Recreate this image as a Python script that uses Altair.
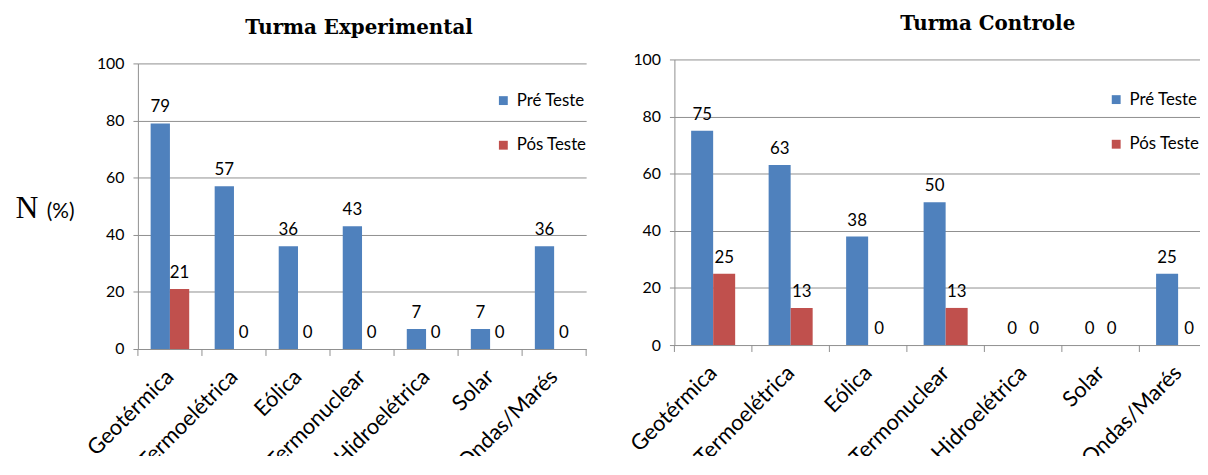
import altair as alt
import pandas as pd

categorias = ["Geotérmica", "Termoelétrica", "Eólica", "Termonuclear",
              "Hidroelétrica", "Solar", "Ondas/Marés"]
series = ["Pré Teste", "Pós Teste"]
exp_pre = [79, 57, 36, 43, 7, 7, 36]
exp_pos = [21, 0, 0, 0, 0, 0, 0]
ctl_pre = [75, 63, 38, 50, 0, 0, 25]
ctl_pos = [25, 13, 0, 13, 0, 0, 0]
titulos = ["Turma Experimental", "Turma Controle"]
eixo_y = ["N", "(%)"]
y_ticks = [0, 20, 40, 60, 80, 100]
cores = ["#4F81BD", "#C0504D"]

GRID = "#8f8f8f"
SANS = "Lato"


def long_df(pre, pos):
    rows = []
    for c, a, b in zip(categorias, pre, pos):
        rows.append({"categoria": c, "serie": series[0], "valor": a})
        rows.append({"categoria": c, "serie": series[1], "valor": b})
    return pd.DataFrame(rows)


def panel(df, titulo, width, height, yrange, pad_off, leg_x, leg_y,
          tx, ty, extra=None):
    xaxis = alt.Axis(title=None, ticks=False, domain=False, grid=False,
                     labelAngle=-45, labelAlign="right", labelBaseline="middle",
                     labelFontSize=22, labelFont=SANS, labelColor="black",
                     labelPadding=24, labelOverlap=False, labelLimit=400)
    xscale = alt.Scale(paddingInner=0, paddingOuter=0)
    x = alt.X("categoria:N", sort=categorias, scale=xscale, axis=xaxis)

    yscale_kw = dict(domain=[0, 100])
    if yrange is not None:
        yscale_kw["range"] = yrange
    y = alt.Y("valor:Q", scale=alt.Scale(**yscale_kw),
              axis=alt.Axis(values=y_ticks, title=None, grid=True,
                            gridColor=GRID, domainColor=GRID, tickColor=GRID,
                            tickSize=5, labelFontSize=16, labelFont=SANS,
                            labelColor="black", labelPadding=9))
    xoff = alt.XOffset("serie:N", sort=series,
                       scale=alt.Scale(paddingInner=0, paddingOuter=pad_off))
    color = alt.Color("serie:N", sort=series,
                      scale=alt.Scale(domain=series, range=cores),
                      legend=alt.Legend(orient="none", legendX=leg_x, legendY=leg_y,
                                        title=None, symbolType="square",
                                        symbolSize=80, symbolStrokeWidth=0,
                                        labelFontSize=17, labelFont=SANS,
                                        labelColor="black", rowPadding=27,
                                        labelOffset=5))
    base = alt.Chart(df)
    bars = base.mark_bar().encode(x=x, xOffset=xoff, y=y, color=color)
    labels = base.mark_text(baseline="bottom", dy=-7, fontSize=17, font=SANS,
                            color="black").encode(x=x, xOffset=xoff, y=y,
                                                  text="valor:Q")
    cat_df = pd.DataFrame({"categoria": categorias})
    ticks = alt.Chart(cat_df).mark_rule(color=GRID).encode(
        x=alt.X("categoria:N", sort=categorias, scale=xscale, axis=xaxis,
                bandPosition=0),
        y=alt.value(height), y2=alt.value(height + 7))
    ticks_end = alt.Chart(cat_df).mark_rule(color=GRID).encode(
        x=alt.X("categoria:N", sort=categorias, scale=xscale, axis=xaxis,
                bandPosition=1),
        y=alt.value(height), y2=alt.value(height + 7)
    ).transform_filter(alt.datum.categoria == categorias[-1])
    title = alt.Chart(pd.DataFrame({"t": [titulo]})).mark_text(
        font="DejaVu Serif", fontWeight="bold", fontSize=20, color="black",
        align="center", baseline="middle"
    ).encode(text="t:N", x=alt.value(tx), y=alt.value(ty))
    layers = [bars, labels, ticks, ticks_end, title]
    if extra:
        layers.extend(extra)
    return alt.layer(*layers).properties(width=width, height=height)


# Y-axis label pieces and a white corner marker for the left panel
n_txt = alt.Chart(pd.DataFrame({"t": [eixo_y[0]]})).mark_text(
    font="Liberation Serif", fontSize=32, color="black", align="center",
    baseline="middle").encode(text="t:N", x=alt.value(-112), y=alt.value(150))
pct_txt = alt.Chart(pd.DataFrame({"t": [eixo_y[1]]})).mark_text(
    font=SANS, fontSize=21, color="black", align="center",
    baseline="middle").encode(text="t:N", x=alt.value(-78), y=alt.value(154))
corner = alt.Chart(pd.DataFrame({"t": [0]})).mark_rule(
    color="white", strokeWidth=1).encode(
    x=alt.value(-128.5), x2=alt.value(-110), y=alt.value(-51.5))

left = panel(long_df(exp_pre, exp_pos), titulos[0], 452, 292, [292, 4],
             0.66, 360, 33, 223, -32, extra=[n_txt, pct_txt, corner])
right = panel(long_df(ctl_pre, ctl_pos), titulos[1], 547, 288, None,
              0.76, 437, 32, 316, -36)

chart = alt.hconcat(left, right, spacing=89, bounds="flush").resolve_scale(
    color="independent", x="independent", y="independent", xOffset="independent"
).resolve_legend(color="independent").properties(
    padding={"left": 1, "top": -3, "right": -18, "bottom": -20}
).configure_view(stroke="transparent")

chart.save("out.html", embed_options={"renderer": "svg", "actions": False})
